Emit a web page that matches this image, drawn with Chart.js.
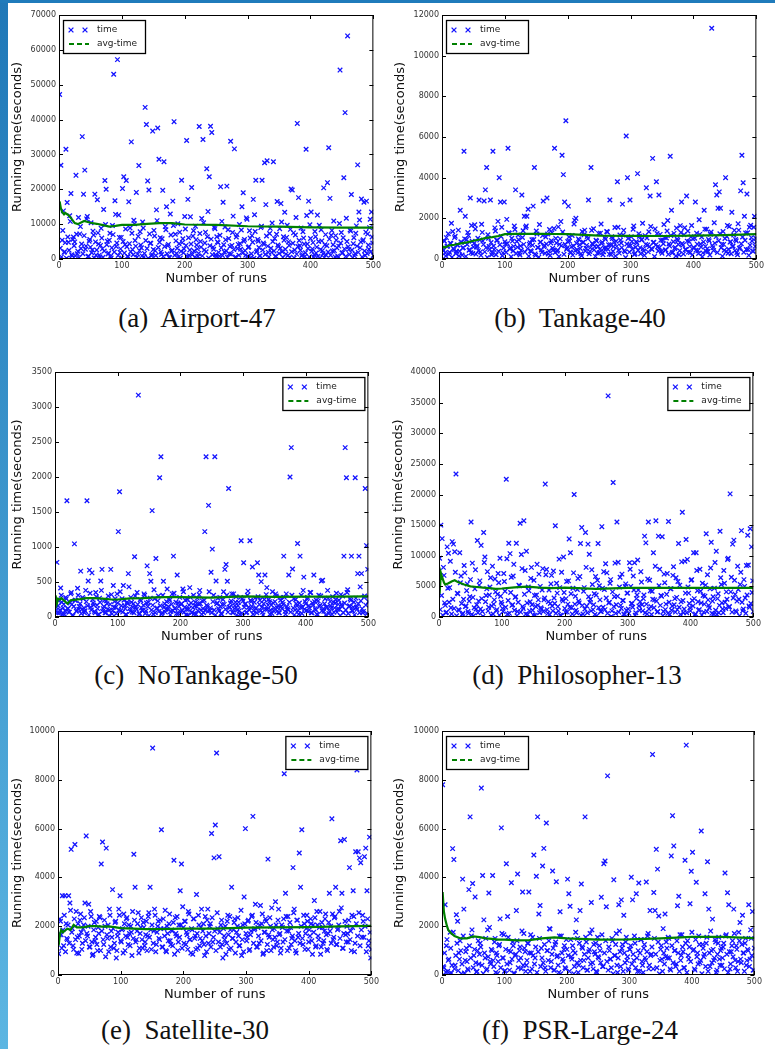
<!DOCTYPE html>
<html>
<head>
<meta charset="utf-8">
<script src="https://cdn.jsdelivr.net/npm/chart.js@4.4.1/dist/chart.umd.min.js"></script>
<style>
html, body { margin: 0; padding: 0; background: #fff; }
#page { position: relative; width: 775px; height: 1049px; overflow: hidden; background: #fff; }
#sidebar { position: absolute; left: 0; top: 0; width: 8px; height: 1049px; background: linear-gradient(#1f78b8, #5cb6e2); }
#topbar { position: absolute; left: 0; top: 0; width: 775px; height: 3px; background: #1f7bbb; }
canvas { position: absolute; }
.cap { position: absolute; width: 300px; text-align: center; font-family: "Liberation Serif", "Times New Roman", serif; font-size: 27px; color: #111; line-height: 30px; white-space: pre; }
</style>
</head>
<body>
<div id="page">
  <div id="sidebar"></div>
  <div id="topbar"></div>
</div>
<script>
// run numbers on the x axis: odd runs and even runs kept in two lists
const runs = Array.from({ length: 250 }, (_, i) => 2 * i + 1);
const evenRuns = Array.from({ length: 250 }, (_, i) => 2 * i + 2);
const avgRuns = [1, 3, 5, 8, 10, 15, 20, 25, 30, 40, 50, 60, 70, 80, 90, 100, 120, 140, 160, 180, 200, 250, 300, 350, 400, 450, 500];

// (a) Airport-47
const timeAirport = [
  47200, 26900, 5400, 13800, 2100, 31500, 16200, 4800, 12400, 18800,
  900, 6300, 4900, 24000, 1500, 11900, 7200, 3000, 35100, 18600,
  25500, 3700, 12200, 800, 5600, 10400, 2600, 6900, 18600, 1100,
  17000, 4300, 600, 8800, 2900, 14200, 22500, 20000, 5100, 1700,
  7400, 300, 9600, 53000, 16700, 3600, 57200, 12600, 1900, 6200,
  20200, 23600, 4100, 22500, 800, 16400, 8900, 33600, 2700, 11100,
  5300, 19100, 1400, 26800, 7800, 3200, 10600, 600, 43500, 38600,
  22400, 19800, 4500, 900, 36700, 8200, 2400, 14100, 37600, 28600,
  6100, 1300, 19700, 27900, 9300, 15000, 3800, 500, 12900, 2200,
  16600, 39400, 7100, 1600, 10100, 4400, 300, 22600, 5800, 2900,
  8600, 34000, 17100, 1000, 12100, 20500, 6600, 2300, 9400, 4000,
  700, 38000, 5000, 11600, 34300, 2600, 7700, 25900, 13600, 23600,
  38100, 36300, 3400, 9100, 1200, 6400, 4700, 800, 20700, 10800,
  16300, 2000, 5500, 20900, 8400, 1500, 33800, 3900, 12300, 31600,
  600, 7000, 4200, 9900, 2800, 15000, 19000, 5600, 1100, 11400,
  3300, 8100, 400, 6700, 17100, 12700, 22600, 2400, 5100, 900,
  9000, 22600, 4600, 27600, 15600, 28200, 1900, 7300, 3100, 10300,
  27900, 5900, 800, 16500, 3600, 8700, 15900, 2100, 6400, 13400,
  1400, 9700, 4900, 500, 20100, 19800, 7500, 2600, 11900, 38900,
  17600, 3800, 8900, 1200, 6000, 700, 31500, 4300, 16600, 9800,
  13500, 2900, 600, 7900, 1700, 12600, 5000, 300, 8400, 2400,
  20400, 4100, 1100, 21900, 31900, 17400, 6800, 2300, 10900, 600,
  5400, 900, 3700, 54200, 7600, 1800, 23300, 42000, 11700, 64000,
  2700, 8300, 18500, 400, 6100, 1500, 9500, 27000, 13500, 3200,
  17200, 5200, 16300, 1000, 16600, 7200, 2800, 11400, 13500, 4600
];
const timeAirportEven = [
  3100, 600, 8200, 1900, 4700, 200, 6300, 2500, 10800, 1200,
  5600, 3800, 900, 7100, 2200, 400, 9300, 4300, 1500, 6700,
  2800, 11500, 700, 5100, 3400, 1800, 8000, 300, 4900, 2600,
  7500, 1100, 3900, 6000, 500, 2300, 9900, 4100, 1400, 5400,
  800, 3200, 7000, 2000, 12800, 4600, 1000, 6200, 2900, 300,
  5000, 1700, 8600, 3500, 600, 4400, 2100, 7400, 1200, 10100,
  3700, 500, 6500, 2400, 4000, 900, 8900, 1600, 5300, 3000,
  200, 7200, 4500, 1300, 2700, 6600, 1000, 11000, 3300, 4800,
  2000, 5800, 700, 3600, 8400, 1500, 4200, 400, 6900, 2500,
  9600, 1100, 5200, 3100, 600, 7700, 2200, 4700, 1800, 12200,
  3900, 800, 6100, 2600, 4300, 1300, 8100, 500, 5500, 2900,
  1600, 7300, 3400, 900, 10400, 4600, 2100, 6400, 300, 3800,
  5700, 1200, 2800, 8700, 700, 4900, 1900, 6800, 3200, 1000,
  4100, 9200, 2300, 500, 5900, 3600, 1400, 7600, 2700, 400,
  6300, 3000, 1100, 4400, 8300, 1700, 5100, 2400, 11800, 800,
  3500, 6000, 1500, 4800, 200, 7900, 2000, 5600, 3300, 900,
  9400, 2600, 4200, 1300, 6600, 3700, 600, 8800, 1900, 5000,
  2300, 700, 7100, 4000, 1600, 3100, 10600, 500, 5400, 2800,
  6200, 1000, 3900, 8500, 2100, 4500, 300, 6900, 1400, 3600,
  5300, 2500, 900, 7800, 4300, 1800, 12500, 3000, 600, 5900,
  2200, 4700, 1200, 6400, 3400, 800, 9700, 2700, 5200, 1500,
  400, 7000, 3800, 2000, 5700, 1100, 8200, 4100, 2400, 6700,
  3200, 500, 10200, 4600, 1700, 6100, 2900, 700, 5000, 3500,
  1300, 8000, 2600, 4400, 900, 7400, 3700, 1900, 11200, 4900,
  600, 5500, 2300, 7700, 1600, 4000, 9000, 2100, 6300, 1000
];
const avgAirport = [16500, 14500, 13500, 12800, 13200, 12600, 11500, 10300, 10000, 10900, 10400, 10100, 9700, 9300, 9500, 9800, 9800, 10100, 10300, 10300, 9900, 9800, 9400, 9300, 9100, 9000, 9000];

// (b) Tankage-40
const timeTankage = [
  520, 900, 310, 1050, 640, 230, 780, 1760, 1350, 460,
  1120, 380, 690, 150, 2400, 820, 540, 5300, 2100, 960,
  1300, 430, 3000, 1650, 270, 760, 1480, 590, 1020, 2900,
  350, 1710, 880, 2850, 3400, 4500, 1190, 620, 2900, 210,
  5300, 470, 1380, 920, 1850, 4000, 2800, 1560, 300, 2800,
  740, 1950, 5450, 1260, 560, 1020, 390, 1620, 3400, 860,
  1180, 280, 640, 3150, 1390, 2100, 1550, 2100, 2450, 720,
  410, 950, 2600, 4500, 180, 1230, 560, 1700, 830, 330,
  2850, 670, 1080, 3000, 250, 1450, 790, 1290, 440, 5450,
  1010, 380, 1580, 720, 1840, 5100, 4150, 2800, 6800, 540,
  2600, 880, 310, 1160, 640, 1900, 2000, 450, 990, 700,
  260, 1350, 820, 1420, 530, 1110, 2900, 370, 4500, 760,
  1490, 610, 920, 290, 1260, 480, 1720, 830, 360, 1050,
  540, 1330, 700, 2900, 220, 1010, 610, 1550, 870, 3800,
  430, 1180, 790, 2700, 1410, 350, 6050, 4000, 650, 2900,
  1090, 480, 1620, 270, 850, 4200, 1240, 560, 940, 1760,
  390, 1150, 3500, 690, 1340, 3100, 510, 4950, 820, 1480,
  3800, 600, 3150, 1210, 380, 930, 1700, 450, 1030, 1890,
  740, 5050, 2400, 330, 1260, 570, 1520, 910, 210, 1640,
  2800, 680, 1190, 470, 3100, 1380, 860, 320, 1650, 990,
  540, 2800, 1270, 410, 1930, 740, 1080, 300, 2400, 620,
  1460, 370, 890, 1220, 11350, 560, 1780, 3650, 3150, 2500,
  3300, 2500, 720, 1350, 430, 4000, 1110, 280, 1600, 850,
  2300, 640, 1410, 960, 320, 1730, 520, 3350, 5100, 3750,
  2100, 1280, 3200, 470, 1560, 1660, 890, 380, 2100, 1020
];
const timeTankageEven = [
  420, 880, 150, 610, 1240, 330, 760, 90, 520, 1050,
  270, 690, 1420, 380, 840, 200, 560, 990, 130, 710,
  1160, 460, 310, 870, 590, 1680, 240, 650, 410, 930,
  180, 1310, 720, 350, 560, 80, 1020, 470, 810, 290,
  640, 1530, 210, 920, 380, 700, 1110, 160, 540, 850,
  330, 760, 1290, 490, 110, 880, 620, 1450, 270, 580,
  950, 200, 430, 1060, 720, 340, 1620, 510, 140, 800,
  370, 680, 960, 250, 1380, 570, 90, 830, 450, 1150,
  610, 280, 740, 1230, 400, 170, 900, 530, 1500, 320,
  790, 440, 120, 990, 650, 1330, 230, 710, 480, 860,
  1080, 350, 600, 190, 1720, 420, 770, 300, 940, 520,
  160, 820, 1190, 390, 670, 1000, 260, 560, 1410, 720,
  450, 130, 880, 630, 310, 1270, 760, 210, 540, 970,
  1350, 480, 240, 700, 1090, 380, 820, 150, 620, 1560,
  290, 930, 560, 1180, 410, 70, 740, 1010, 340, 660,
  860, 1460, 220, 580, 790, 430, 1120, 260, 950, 500,
  180, 720, 1030, 350, 610, 1600, 470, 810, 120, 690,
  1250, 390, 570, 920, 280, 750, 1070, 440, 1380, 230,
  640, 1160, 300, 850, 520, 150, 980, 710, 410, 1300,
  760, 250, 1540, 460, 880, 340, 620, 1090, 190, 570,
  1020, 430, 730, 270, 1210, 590, 110, 840, 1470, 380,
  500, 960, 200, 1330, 660, 420, 780, 1100, 320, 900,
  1240, 550, 140, 720, 1010, 360, 1650, 480, 830, 260,
  610, 1180, 410, 890, 210, 1420, 560, 750, 1080, 330,
  920, 470, 1290, 180, 680, 1050, 390, 1560, 620, 840
];
const avgTankage = [550, 600, 580, 620, 650, 680, 700, 740, 770, 820, 900, 960, 1040, 1080, 1130, 1220, 1240, 1240, 1240, 1230, 1220, 1150, 1140, 1130, 1150, 1170, 1220];

// (c) NoTankage-50
const timeNoTankage = [
  90, 780, 160, 60, 415, 210, 130, 40, 280, 1660,
  120, 70, 330, 180, 20, 1045, 240, 95, 310, 150,
  655, 110, 260, 60, 380, 1660, 515, 670, 140, 630,
  200, 80, 350, 170, 30, 270, 515, 680, 120, 240,
  60, 190, 300, 100, 680, 45, 450, 220, 140, 330,
  1220, 1790, 90, 260, 450, 160, 35, 210, 620, 120,
  280, 70, 190, 860, 140, 350, 3170, 50, 230, 100,
  170, 310, 85, 730, 210, 620, 510, 1520, 40, 260,
  835, 130, 300, 1990, 2290, 60, 510, 190, 110, 400,
  150, 240, 80, 330, 870, 120, 210, 600, 50, 280,
  180, 90, 360, 140, 30, 250, 110, 420, 200, 70,
  310, 160, 40, 270, 190, 380, 100, 230, 60, 1220,
  2290, 150, 1595, 90, 640, 970, 310, 2290, 515, 200,
  120, 280, 50, 180, 360, 680, 750, 510, 1835, 140,
  230, 70, 330, 160, 290, 100, 210, 40, 1090, 260,
  775, 180, 60, 310, 140, 1090, 220, 715, 90, 270,
  130, 775, 600, 240, 505, 70, 190, 600, 320, 110,
  250, 40, 170, 360, 90, 220, 300, 130, 60, 280,
  150, 210, 870, 80, 330, 120, 600, 2000, 2420, 685,
  260, 100, 190, 1050, 40, 870, 310, 140, 570, 220,
  90, 280, 160, 350, 60, 200, 600, 120, 240, 30,
  310, 170, 515, 525, 80, 260, 140, 380, 50, 220,
  130, 290, 70, 200, 340, 110, 240, 20, 180, 300,
  870, 2420, 1990, 390, 150, 260, 870, 90, 210, 1990,
  140, 620, 870, 430, 620, 60, 280, 1835, 1020, 680
];
const timeNoTankageEven = [
  140, 60, 230, 100, 310, 40, 180, 90, 260, 120,
  70, 200, 350, 30, 150, 240, 80, 410, 110, 190,
  50, 280, 130, 90, 220, 160, 30, 340, 100, 250,
  170, 60, 290, 120, 40, 210, 380, 80, 150, 60,
  230, 110, 20, 180, 320, 90, 140, 260, 50, 200,
  100, 360, 160, 70, 240, 120, 30, 190, 430, 80,
  210, 140, 60, 300, 110, 180, 40, 250, 130, 90,
  330, 50, 200, 150, 20, 270, 100, 170, 390, 60,
  120, 230, 80, 160, 40, 310, 140, 70, 220, 110,
  260, 30, 180, 90, 340, 130, 50, 200, 150, 80,
  190, 400, 70, 240, 110, 30, 170, 280, 60, 130,
  50, 210, 150, 90, 320, 190, 40, 120, 240, 100,
  170, 80, 360, 130, 60, 220, 100, 30, 190, 270,
  90, 150, 40, 250, 180, 110, 310, 70, 140, 200,
  330, 60, 120, 210, 30, 160, 90, 280, 50, 230,
  140, 190, 70, 370, 100, 240, 150, 40, 210, 120,
  60, 290, 180, 90, 140, 30, 250, 110, 420, 170,
  220, 100, 50, 200, 130, 330, 80, 160, 60, 240,
  120, 180, 280, 40, 150, 100, 210, 70, 310, 130,
  30, 250, 160, 90, 200, 140, 50, 380, 110, 190,
  260, 80, 130, 350, 60, 170, 220, 100, 40, 230,
  150, 300, 90, 120, 190, 30, 140, 270, 80, 160,
  40, 210, 130, 250, 70, 180, 110, 320, 150, 60,
  200, 100, 350, 50, 160, 240, 90, 140, 30, 270,
  110, 190, 60, 230, 120, 80, 300, 170, 50, 220
];
const avgNoTankage = [310, 190, 260, 250, 270, 230, 190, 240, 245, 255, 270, 270, 265, 260, 250, 250, 265, 270, 280, 285, 285, 278, 295, 288, 292, 290, 295];

// (d) Philosopher-13
const timePhilosopher = [
  9600, 15000, 12800, 8100, 2300, 700, 11450, 10400, 4800, 1500,
  12300, 11900, 10650, 23350, 3900, 1200, 10500, 6700, 400, 2900,
  7200, 1800, 5400, 600, 3300, 15500, 8800, 200, 4600, 1300,
  12500, 2600, 5900, 11700, 900, 13800, 9800, 3500, 7400, 1600,
  4900, 300, 8300, 2100, 6200, 1000, 3700, 5600, 9600, 2400,
  1400, 7100, 4200, 22500, 500, 12050, 10350, 6500, 2000, 8600,
  3200, 12050, 900, 5200, 15300, 10200, 1700, 15700, 7600, 10750,
  400, 4300, 2500, 8100, 1100, 6000, 300, 3600, 1900, 7000,
  5000, 1300, 7900, 2800, 21700, 7750, 600, 4400, 2200, 6800,
  1000, 3100, 14900, 5500, 1700, 9450, 300, 7300, 2600, 4000,
  800, 5800, 2100, 12750, 10500, 1500, 4700, 20000, 3400, 700,
  6300, 2300, 12000, 14600, 500, 4800, 13800, 1800, 11900, 10250,
  2900, 7700, 1200, 3800, 6600, 200, 12000, 5100, 900, 14750,
  1600, 4500, 8700, 7200, 36100, 2400, 6100, 1000, 21950, 3300,
  600, 15500, 8950, 4900, 1900, 7000, 2700, 400, 5400, 3900,
  1300, 8850, 5000, 2200, 6700, 8850, 700, 3600, 4400, 1100,
  7400, 2000, 3000, 13200, 12100, 500, 15500, 6000, 1700, 4200,
  10500, 2800, 15700, 800, 13200, 7800, 3500, 13100, 900, 5600,
  2100, 7100, 15600, 400, 4600, 1800, 8200, 3000, 6400, 1200,
  12000, 5200, 2500, 17100, 700, 9100, 12650, 9400, 3900, 1500,
  6000, 2700, 10500, 300, 10500, 4300, 1100, 7800, 2300, 5500,
  800, 3400, 13600, 6900, 1900, 4600, 12200, 2600, 500, 8900,
  10750, 3000, 700, 14000, 5300, 1300, 7600, 2400, 4100, 9400,
  1600, 20100, 6500, 11900, 12550, 3700, 800, 8300, 2900, 5300,
  14100, 1000, 6100, 3100, 8400, 13350, 1800, 14400, 11450, 5900
];
const timePhilosopherEven = [
  1200, 3500, 300, 6800, 1900, 800, 4700, 2400, 9100, 500,
  2900, 1400, 7300, 200, 3800, 1100, 5600, 2200, 600, 8400,
  1700, 4300, 900, 2600, 6100, 400, 3200, 1500, 7700, 2000,
  700, 5200, 1300, 3000, 100, 8900, 2500, 4600, 1000, 3600,
  6400, 1800, 500, 2800, 4100, 1200, 7100, 300, 3400, 2100,
  900, 5800, 1600, 9500, 2700, 600, 4000, 1900, 6700, 1100,
  3300, 200, 2400, 5100, 800, 7900, 1400, 3700, 500, 2300,
  4900, 1000, 6300, 2000, 300, 3500, 1700, 8600, 2800, 700,
  1500, 4400, 900, 3100, 6900, 1200, 2500, 400, 5400, 1800,
  7500, 2200, 600, 3900, 1000, 4800, 200, 2900, 9800, 1400,
  3000, 800, 5900, 1600, 3800, 500, 7200, 2100, 1100, 4500,
  2600, 6600, 300, 1900, 4200, 1300, 8100, 700, 3300, 2400,
  1000, 5300, 2000, 400, 3600, 6000, 1500, 2800, 900, 4700,
  7400, 1200, 3100, 600, 2300, 5500, 100, 4100, 1700, 8800,
  2000, 3400, 800, 6500, 1400, 2700, 500, 5000, 1100, 3900,
  600, 7800, 2200, 1600, 4400, 300, 3000, 9300, 1800, 2500,
  5700, 1000, 3600, 700, 2100, 6200, 1300, 4300, 400, 2900,
  1500, 8300, 2600, 900, 5100, 1900, 3400, 200, 7000, 1200,
  3700, 600, 2400, 4600, 1100, 6800, 2000, 800, 3200, 5800,
  1600, 400, 9000, 2700, 1300, 3900, 700, 4900, 2200, 1000,
  6100, 1800, 3000, 500, 7600, 2500, 1200, 4200, 300, 3500,
  2100, 5200, 900, 2800, 1500, 8000, 600, 3300, 4700, 1100,
  400, 3800, 1900, 6400, 2300, 700, 5500, 1400, 2900, 9600,
  1700, 4100, 800, 3100, 6000, 1000, 2600, 4500, 200, 7300,
  2400, 1300, 5000, 600, 3600, 8500, 1600, 2200, 4000, 900
];
const avgPhilosopher = [3800, 7200, 6500, 5600, 5300, 5500, 5800, 6000, 5700, 5300, 5000, 4900, 4800, 4700, 4600, 4650, 4850, 4950, 4800, 4700, 4800, 4600, 4750, 4750, 4750, 4750, 4750];

// (e) Satellite-30
const timeSatellite = [
  870, 2300, 1650, 3250, 1200, 3250, 2100, 1450, 3250, 2950,
  5150, 1900, 1050, 5350, 2600, 1550, 880, 2250, 1750, 1300,
  2050, 2950, 5700, 1600, 2900, 1150, 2400, 800, 1850, 1400,
  2200, 1000, 1700, 2350, 4550, 5450, 1250, 2000, 5200, 1500,
  950, 2450, 1800, 3500, 1100, 2150, 700, 1600, 2700, 3250,
  1350, 1900, 2500, 1000, 2300, 1550, 2050, 1200, 1750, 2600,
  4950, 3600, 1450, 2100, 900, 1700, 2350, 1100, 1950, 1350,
  2200, 1600, 2550, 3600, 1050, 9300, 1800, 2450, 1250, 2000,
  1500, 2250, 5950, 1150, 1900, 2650, 950, 1700, 2100, 1400,
  1850, 1200, 4700, 2350, 1600, 1000, 2050, 3450, 4550, 2800,
  1300, 2200, 1750, 1050, 2500, 1450, 1900, 850, 2300, 1600,
  3300, 1100, 2050, 1500, 2700, 1800, 1250, 2400, 950, 2700,
  1700, 2100, 5800, 1350, 4800, 6150, 9100, 1900, 4850, 1150,
  2250, 700, 1600, 2000, 1300, 2450, 1050, 1850, 3600, 1500,
  2150, 900, 1750, 2350, 1200, 1950, 800, 2050, 3200, 6000,
  1400, 2200, 1000, 1650, 2400, 6500, 1850, 2900, 1150, 1950,
  1300, 2850, 2100, 850, 1750, 2300, 1000, 4750, 1550, 2000,
  2750, 1450, 1900, 3000, 1200, 2250, 1650, 900, 2050, 1350,
  8250, 3350, 1800, 2400, 1100, 1950, 1500, 4400, 2700, 1000,
  2250, 1550, 5000, 3600, 5950, 1250, 2100, 1700, 2450, 1050,
  1850, 2300, 1400, 2050, 3050, 1150, 2600, 1600, 1950, 850,
  2150, 1300, 1800, 2500, 1050, 1700, 3350, 2000, 6400, 1450,
  2350, 3600, 1250, 1900, 2600, 5500, 3350, 1100, 5550, 1650,
  2000, 1350, 4400, 1800, 2450, 3450, 950, 5050, 8400, 5050,
  4800, 4600, 1550, 2200, 4850, 5200, 3450, 1200, 5650, 700
];
const timeSatelliteEven = [
  1650, 2200, 1100, 1850, 2450, 950, 1500, 2050, 1300, 2650,
  1750, 1200, 2300, 1450, 900, 2100, 1600, 2500, 1050, 1900,
  2350, 1400, 1700, 2000, 1150, 2600, 1350, 850, 2150, 1550,
  1250, 1950, 2400, 1000, 1800, 1450, 2250, 750, 1650, 2050,
  2700, 1150, 1550, 1900, 1300, 2200, 1000, 1750, 2450, 1400,
  1850, 900, 2100, 1600, 2350, 1250, 1700, 2000, 800, 1500,
  2250, 1350, 1800, 2550, 1100, 1950, 1450, 2150, 1200, 1650,
  1000, 2400, 1550, 1850, 2050, 1300, 2700, 950, 1750, 2200,
  1450, 1900, 1150, 2300, 1600, 1000, 2000, 1400, 2500, 1250,
  1800, 2150, 850, 1700, 2400, 1350, 1550, 2050, 1100, 1950,
  2200, 1250, 1650, 2600, 1450, 900, 1850, 2300, 1500, 1050,
  1700, 2450, 1200, 1950, 1400, 2100, 800, 1600, 2250, 1300,
  2000, 1150, 2350, 1550, 1800, 1000, 2550, 1350, 1750, 2050,
  1250, 1900, 1450, 850, 2200, 1650, 2400, 1100, 1500, 1850,
  2300, 1350, 2000, 1600, 1200, 2650, 1450, 950, 2100, 1700,
  1550, 2250, 1050, 1800, 2450, 1300, 1900, 2150, 1150, 1600,
  2050, 1400, 2500, 900, 1750, 2200, 1250, 1650, 2350, 1000,
  1850, 1150, 1550, 2050, 1350, 2700, 1700, 1100, 1950, 2300,
  1450, 2400, 1000, 1800, 2150, 1250, 1600, 2550, 1400, 900,
  2250, 1700, 1300, 2000, 1500, 2450, 1050, 1900, 2200, 1350,
  1600, 2100, 850, 1750, 2350, 1200, 2050, 1450, 2600, 1150,
  1950, 1400, 2300, 1650, 1000, 2150, 1800, 1300, 2500, 1550,
  2400, 1250, 1850, 2050, 1500, 2750, 1100, 1700, 2200, 1350,
  1700, 2250, 1450, 1000, 1950, 2400, 1300, 2100, 1600, 2550,
  1200, 1850, 2450, 1550, 2000, 950, 2300, 1400, 1750, 1050
];
const avgSatellite = [1200, 1650, 1850, 1750, 1800, 1900, 1850, 2050, 1950, 1950, 2000, 2000, 1980, 1990, 1960, 1920, 1900, 1880, 1880, 1890, 1900, 1900, 1940, 1950, 1960, 1990, 2010];

// (f) PSR-Large-24
const timePsr = [
  7800, 300, 2880, 1200, 150, 650, 1750, 80, 5180, 4730,
  400, 2470, 2200, 900, 1400, 50, 3930, 2700, 600, 1100,
  250, 3500, 6480, 1600, 3750, 800, 3200, 120, 1000, 450,
  1300, 7660, 4080, 2260, 700, 200, 1850, 3360, 550, 1050,
  4080, 350, 1500, 900, 60, 1200, 2300, 6030, 700, 1650,
  180, 4560, 2400, 1000, 500, 3780, 1350, 80, 800, 2640,
  4140, 600, 1150, 250, 3400, 1700, 950, 400, 1300, 3400,
  150, 900, 1550, 4920, 700, 4050, 6480, 2500, 2850, 1100,
  4470, 5190, 300, 6230, 1000, 1400, 1880, 550, 4260, 200,
  1250, 3820, 800, 100, 2590, 1600, 650, 1050, 300, 1450,
  3930, 3330, 2820, 750, 1200, 50, 900, 2260, 1500, 400,
  2640, 3730, 1100, 600, 6480, 1350, 200, 950, 1700, 2970,
  500, 1250, 850, 150, 1550, 700, 1000, 3190, 350, 4560,
  4670, 2800, 8160, 1150, 650, 300, 1400, 3900, 800, 1700,
  100, 2880, 950, 3080, 1250, 2450, 500, 1550, 750, 200,
  1050, 4010, 3080, 600, 1300, 3330, 150, 3770, 900, 1450,
  400, 1100, 700, 3810, 1600, 250, 2640, 850, 9040, 3380,
  2640, 5150, 4340, 2420, 600, 1200, 150, 900, 2500, 1350,
  700, 1500, 250, 4880, 6530, 5290, 1000, 450, 2840, 3230,
  1650, 800, 1150, 300, 4700, 9420, 1400, 650, 2920, 4250,
  5030, 1050, 200, 3800, 900, 1600, 500, 5900, 1250, 750,
  3330, 1300, 4640, 2700, 350, 1000, 2290, 600, 1450, 100,
  850, 1550, 400, 1100, 700, 1300, 4180, 1650, 3370, 2880,
  250, 950, 1400, 2700, 600, 1200, 150, 1750, 2150, 500,
  2450, 900, 1300, 400, 1050, 2880, 650, 1500, 2600, 200
];
const timePsrEven = [
  350, 900, 120, 1450, 600, 50, 1100, 400, 1750, 250,
  800, 1300, 180, 650, 1000, 450, 1600, 80, 950, 550,
  200, 1200, 700, 1850, 300, 1050, 500, 150, 1400, 850,
  1150, 400, 60, 900, 1500, 250, 750, 1950, 450, 1000,
  600, 1350, 100, 800, 550, 1250, 300, 1700, 700, 150,
  1050, 450, 1550, 200, 950, 650, 1200, 50, 850, 1400,
  300, 1000, 700, 1800, 400, 1100, 150, 600, 1300, 900,
  1650, 250, 800, 450, 1150, 100, 950, 1500, 350, 700,
  500, 1250, 150, 1000, 600, 1900, 300, 850, 1100, 200,
  1350, 750, 400, 1600, 50, 900, 550, 1200, 250, 1050,
  800, 150, 1450, 650, 1000, 350, 1750, 500, 100, 1300,
  600, 1150, 300, 850, 1550, 200, 700, 1050, 450, 1850,
  250, 950, 1300, 100, 750, 1200, 500, 1650, 350, 900,
  1400, 550, 200, 1000, 650, 1500, 50, 800, 1250, 400,
  700, 1800, 350, 1100, 150, 900, 1350, 600, 250, 1050,
  1200, 450, 850, 1600, 300, 700, 1000, 150, 1450, 550,
  100, 1250, 600, 950, 1700, 400, 800, 1150, 250, 1500,
  850, 300, 1350, 50, 1050, 650, 1900, 450, 750, 1100,
  1550, 700, 200, 1200, 500, 1000, 350, 1400, 900, 150,
  600, 1650, 950, 300, 1300, 100, 800, 1150, 550, 1750,
  1000, 250, 1450, 750, 450, 1250, 600, 50, 1100, 850,
  350, 1550, 150, 900, 1800, 500, 1050, 700, 1350, 200,
  1300, 650, 1000, 400, 1150, 250, 1600, 850, 100, 950,
  450, 1200, 750, 1700, 300, 1050, 550, 1400, 650, 1250,
  900, 150, 1500, 600, 1000, 350, 1850, 800, 200, 1100
];
const avgPsr = [3400, 2600, 2300, 2000, 1850, 1700, 1600, 1550, 1500, 1500, 1580, 1550, 1500, 1480, 1450, 1450, 1420, 1430, 1500, 1540, 1500, 1450, 1460, 1500, 1560, 1560, 1510];

const yMax = [70000, 12000, 3500, 40000, 10000, 10000];
const yStep = [10000, 2000, 500, 5000, 2000, 2000];
const captions = ['(a)  Airport-47', '(b)  Tankage-40', '(c)  NoTankage-50', '(d)  Philosopher-13', '(e)  Satellite-30', '(f)  PSR-Large-24'];

// plot rectangles measured on the reference, plus where the y title sits
const panels = [
  { time: timeAirport, even: timeAirportEven, avg: avgAirport, l: 59, r: 375, t: 15, b: 259, titleX: 8, legend: 'left', capX: 197, capY: 318 },
  { time: timeTankage, even: timeTankageEven, avg: avgTankage, l: 442, r: 758, t: 15, b: 259, titleX: 391, legend: 'left', capX: 580, capY: 318 },
  { time: timeNoTankage, even: timeNoTankageEven, avg: avgNoTankage, l: 55, r: 370, t: 372, b: 617, titleX: 8, legend: 'right', capX: 196, capY: 675 },
  { time: timePhilosopher, even: timePhilosopherEven, avg: avgPhilosopher, l: 439, r: 755, t: 372, b: 617, titleX: 389, legend: 'right', capX: 577, capY: 675 },
  { time: timeSatellite, even: timeSatelliteEven, avg: avgSatellite, l: 58, r: 373, t: 731, b: 975, titleX: 8, legend: 'right', capX: 185, capY: 1030 },
  { time: timePsr, even: timePsrEven, avg: avgPsr, l: 442, r: 756, t: 731, b: 975, titleX: 390, legend: 'left', capX: 580, capY: 1030 }
];

const BLUE = '#1414ff';
const GREEN = '#008000';

function drawCross(ctx, x, y, r) {
  ctx.beginPath();
  ctx.moveTo(x - r, y - r); ctx.lineTo(x + r, y + r);
  ctx.moveTo(x - r, y + r); ctx.lineTo(x + r, y - r);
  ctx.stroke();
}

// matplotlib-like frame, inward ticks on all four sides, boxed legend
const frameTicks = {
  id: 'frameTicks',
  afterDatasetsDraw(chart, args, opts) {
    const ctx = chart.ctx, a = chart.chartArea;
    const xs = chart.scales.x, ys = chart.scales.y;
    ctx.save();
    ctx.strokeStyle = '#000';
    ctx.lineWidth = 1;
    ctx.strokeRect(a.left + 0.5, a.top + 0.5, a.right - a.left - 1, a.bottom - a.top - 1);
    ctx.beginPath();
    xs.ticks.forEach(t => {
      const px = Math.round(xs.getPixelForValue(t.value)) + 0.5;
      ctx.moveTo(px, a.bottom); ctx.lineTo(px, a.bottom - 4);
      ctx.moveTo(px, a.top); ctx.lineTo(px, a.top + 4);
    });
    ys.ticks.forEach(t => {
      const py = Math.round(ys.getPixelForValue(t.value)) + 0.5;
      ctx.moveTo(a.left, py); ctx.lineTo(a.left + 4, py);
      ctx.moveTo(a.right, py); ctx.lineTo(a.right - 4, py);
    });
    ctx.stroke();

    // legend box
    const bw = 82, bh = 33;
    const bx = opts.side === 'left' ? a.left + 4 : a.right - 4 - bw;
    const by = a.top + 5;
    ctx.fillStyle = '#fff';
    ctx.fillRect(bx, by, bw, bh);
    ctx.strokeStyle = '#000';
    ctx.lineWidth = 1.3;
    ctx.strokeRect(bx + 0.5, by + 0.5, bw, bh);
    ctx.strokeStyle = BLUE;
    ctx.lineWidth = 1.3;
    drawCross(ctx, bx + 8, by + 10, 2.4);
    drawCross(ctx, bx + 22, by + 10, 2.4);
    ctx.strokeStyle = GREEN;
    ctx.lineWidth = 2;
    ctx.setLineDash([5, 3]);
    ctx.beginPath();
    ctx.moveTo(bx + 6, by + 24); ctx.lineTo(bx + 26, by + 24);
    ctx.stroke();
    ctx.setLineDash([]);
    ctx.fillStyle = '#222';
    ctx.font = '9px "DejaVu Sans"';
    ctx.textBaseline = 'middle';
    ctx.fillText('time', bx + 34, by + 10);
    ctx.fillText('avg-time', bx + 34, by + 24);
    ctx.restore();
  }
};

const page = document.getElementById('page');

panels.forEach((p, k) => {
  const cx = p.titleX, cy = p.t - 10;
  const cw = p.r + 8 - cx, ch = p.b + 30 - cy;
  const canvas = document.createElement('canvas');
  canvas.width = cw; canvas.height = ch;
  canvas.style.left = cx + 'px'; canvas.style.top = cy + 'px';
  canvas.style.width = cw + 'px'; canvas.style.height = ch + 'px';
  page.appendChild(canvas);

  const cap = document.createElement('div');
  cap.className = 'cap';
  cap.textContent = captions[k];
  cap.style.left = (p.capX - 150) + 'px';
  cap.style.top = (p.capY - 15) + 'px';
  page.appendChild(cap);

  const tickFont = { family: 'DejaVu Sans', size: 8 };
  const titleFont = { family: 'DejaVu Sans', size: 13 };
  const points = p.time.map((v, i) => ({ x: runs[i], y: v }))
    .concat(p.even.map((v, i) => ({ x: evenRuns[i], y: v })));

  new Chart(canvas, {
    type: 'scatter',
    data: {
      datasets: [
        {
          label: 'time',
          data: points,
          pointStyle: 'crossRot',
          pointRadius: 3.2,
          borderColor: BLUE,
          pointBorderColor: BLUE,
          pointBorderWidth: 1.3,
          backgroundColor: BLUE,
          order: 2
        },
        {
          label: 'avg-time',
          data: p.avg.map((v, i) => ({ x: avgRuns[i], y: v })),
          showLine: true,
          borderColor: GREEN,
          borderWidth: 2.2,
          pointRadius: 0,
          fill: false,
          tension: 0,
          order: 1
        }
      ]
    },
    options: {
      responsive: false,
      animation: false,
      devicePixelRatio: 1,
      layout: { padding: { top: p.t - cy, right: cx + cw - p.r, left: 0, bottom: 0 } },
      plugins: {
        legend: { display: false },
        tooltip: { enabled: false },
        frameTicks: { side: p.legend }
      },
      scales: {
        x: {
          type: 'linear', min: 0, max: 500,
          afterFit(s) { s.height = 30; },
          grid: { display: false, drawTicks: false },
          border: { display: false },
          ticks: { stepSize: 100, padding: 2, maxRotation: 0, font: tickFont, color: '#333', callback: v => String(v) },
          title: { display: true, text: 'Number of runs', font: titleFont, color: '#111', padding: { top: 0, bottom: 3 } }
        },
        y: {
          type: 'linear', min: 0, max: yMax[k],
          afterFit(s) { s.width = p.l - cx; },
          grid: { display: false, drawTicks: false },
          border: { display: false },
          ticks: { stepSize: yStep[k], padding: 3, font: tickFont, color: '#333', callback: v => String(v) },
          title: { display: true, text: 'Running time(seconds)', font: titleFont, color: '#111', padding: { top: 2, bottom: 0 } }
        }
      }
    },
    plugins: [frameTicks]
  });
});
</script>
</body>
</html>
